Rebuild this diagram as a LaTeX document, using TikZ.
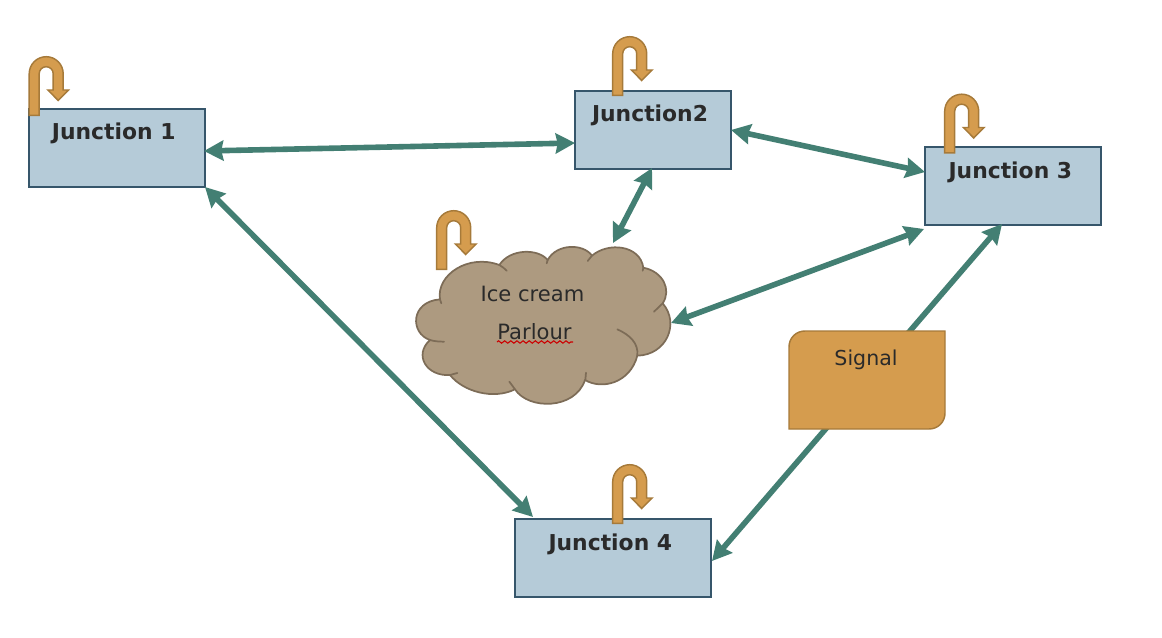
\documentclass[tikz,border=0pt]{standalone}
\usepackage{fontspec}
\setmainfont{DejaVu Sans}
\usetikzlibrary{arrows.meta,calc,decorations.pathmorphing}
\definecolor{boxfill}{HTML}{B5CBD8}
\definecolor{boxline}{HTML}{36566B}
\definecolor{linkcol}{HTML}{437F73}
\definecolor{cloudfill}{HTML}{AD9A80}
\definecolor{cloudline}{HTML}{7D6C57}
\definecolor{orfill}{HTML}{D59C4E}
\definecolor{orline}{HTML}{A67A3A}
\definecolor{txt}{HTML}{2A2A2A}
\tikzset{
  x=0.75pt,y=-0.75pt,
  jbox/.style={draw=boxline,fill=boxfill,line width=1.5pt,inner sep=0pt,text=txt,
    font=\bfseries\fontsize{16.4}{18}\selectfont,text height=12pt,text depth=24pt},
  link/.style={draw=linkcol,line width=4.2pt,{Stealth[length=14.5pt,width=15pt,inset=1.5pt]}-{Stealth[length=14.5pt,width=15pt,inset=1.5pt]}},
  plain text/.style={text=txt,font=\fontsize{15.4}{18}\selectfont,inner sep=0pt},
  uturn/.pic={
    \draw[fill=orfill,draw=orline,line width=1.1pt]
      (0.7,-0.7) -- (0.7,-42.3) arc (180:360:17) -- (34.7,-26) -- (40,-26) -- (29.7,-15.5) -- (19.4,-26)
      -- (24.7,-26) -- (24.7,-42.3) arc (360:180:7) -- (10.7,-0.7) -- cycle;
  }
}
\begin{document}
\begin{tikzpicture}
\useasboundingbox (0,0) rectangle (1162,638);

% junction boxes
\node[jbox,minimum width=132pt,minimum height=58.5pt] (j1) at (117,148) {Junction 1\kern5pt};
\node[jbox,minimum width=117pt,minimum height=58.5pt] (j2) at (653,130) {Junction2\kern4.5pt};
\node[jbox,minimum width=132pt,minimum height=58.5pt] (j3) at (1013,186) {Junction 3\kern4pt};
\node[jbox,minimum width=147pt,minimum height=58.5pt] (j4) at (613,558) {Junction 4\kern4pt};

% cloud
\begin{scope}[shift={(400,200)},x=0.25pt,y=-0.25pt]
\draw[fill=cloudfill,draw=cloudline,line width=1.3pt,line join=round]
  (120,298) .. controls (108,225) and (205,160) .. (298,195)
  .. controls (330,145) and (415,145) .. (443,180)
  .. controls (470,130) and (550,130) .. (576,167)
  .. controls (625,125) and (720,135) .. (730,203)
  .. controls (790,215) and (815,270) .. (788,310)
  .. controls (840,370) and (800,465) .. (712,467)
  .. controls (690,550) and (605,570) .. (555,540)
  .. controls (525,630) and (385,630) .. (345,568)
  .. controls (280,600) and (190,575) .. (150,525)
  .. controls (80,530) and (40,465) .. (90,420)
  .. controls (30,400) and (30,305) .. (120,298)
  -- cycle;
\draw[draw=cloudline,line width=1.3pt,line cap=round]
  (298,195) .. controls (306,200) and (314,205) .. (320,212)
  (443,180) -- (440,190)
  (576,167) -- (563,183)
  (730,203) -- (728,212)
  (788,310) -- (762,335)
  (712,467) .. controls (716,430) and (690,405) .. (652,388)
  (556,540) -- (558,518)
  (345,568) -- (328,545)
  (150,525) -- (172,519)
  (90,420) .. controls (103,424) and (118,425) .. (132,425)
  (120,298) -- (124,310);
\end{scope}
\node[plain text,align=center,font=\fontsize{15.8}{18}\selectfont] (cloud) at (532.5,313) {Ice cream\\[10pt]\hspace*{3pt}Parlour};
\coordinate (cloudtop) at (613,243);
\coordinate (cloudright) at (671,323);
\draw[red!80!black,line width=0.8pt,decorate,decoration={zigzag,segment length=4.6pt,amplitude=0.9pt}]
  (497,342) -- (573,342);

% connectors
\draw[link] ([yshift=-2.25pt,xshift=-1.5pt]j1.east) -- ([yshift=-9.75pt,xshift=0.75pt]j2.west);
\draw[link] ([xshift=-0.75pt]j2.east) -- ([yshift=10.5pt,xshift=0.75pt]j3.west);
\draw[link] ([xshift=-0.75pt,yshift=1.5pt]j2.south) -- (cloudtop);
\draw[link] ([xshift=0pt,yshift=-2.25pt]j3.south west) -- (cloudright);
\draw[link] ([xshift=-0.75pt,yshift=0.75pt]j1.south east) -- ([xshift=14.25pt,yshift=0.75pt]j4.north west);
\draw[link] ([xshift=-8.25pt,yshift=1.5pt]j3.south) -- ([xshift=0pt,yshift=-2.25pt]j4.east);

% signal
\draw[fill=orfill,draw=orline,line width=1.1pt]
  (789,429) -- (789,347) .. controls (789,338) and (796,331) .. (805,331)
  -- (945,331) -- (945,413) .. controls (945,422) and (938,429) .. (929,429) -- cycle;
\node[plain text] (signal) at (866,359.5) {Signal};

% self loops
\pic at (28.5,116) {uturn};
\pic at (612,96) {uturn};
\pic at (944,153.5) {uturn};
\pic at (612,524) {uturn};
\pic at (436,270) {uturn};
\end{tikzpicture}
\end{document}
